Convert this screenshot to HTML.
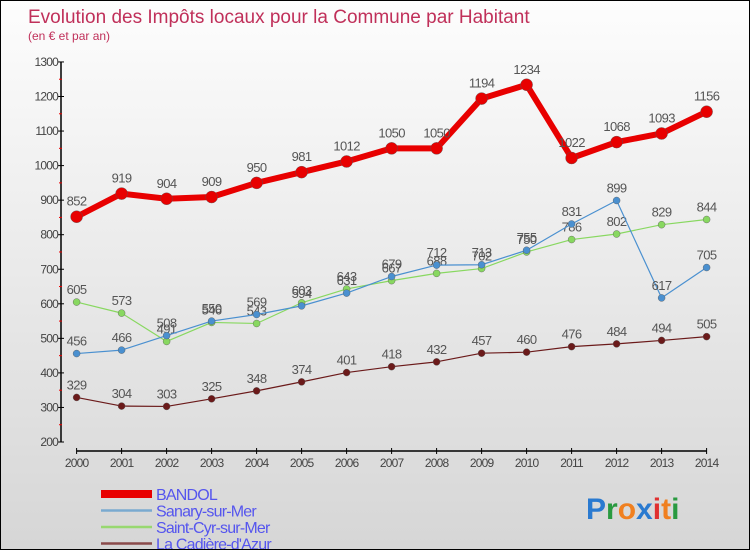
<!DOCTYPE html>
<html><head><meta charset="utf-8"><style>
body{margin:0;}
#c{width:750px;height:550px;position:relative;box-sizing:border-box;border:1px solid #000;background:linear-gradient(#fdfdfd,#d6d6d6);font-family:"Liberation Sans",sans-serif;overflow:hidden}
</style></head><body>
<div id="c">
<svg id="s" width="750" height="550" style="position:absolute;left:0;top:0"></svg>
</div>
<script>
const years=[2000,2001,2002,2003,2004,2005,2006,2007,2008,2009,2010,2011,2012,2013,2014];
const bandol=[852,919,904,909,950,981,1012,1050,1050,1194,1234,1022,1068,1093,1156];
const sanary=[456,466,508,550,569,594,631,679,712,713,755,831,899,617,705];
const saintcyr=[605,573,491,546,543,603,643,667,688,702,750,786,802,829,844];
const cadiere=[329,304,303,325,348,374,401,418,432,457,460,476,484,494,505];
const yTicks=[200,300,400,500,600,700,800,900,1000,1100,1200,1300];
const seriesNames=["BANDOL","Sanary-sur-Mer","Saint-Cyr-sur-Mer","La Cadière-d'Azur"];
const NS="http://www.w3.org/2000/svg";
const s=document.getElementById('s');
const X=i=>75.6+i*45;
const Y=v=>441-(v-200)*0.3455;
function el(t,a,p){const e=document.createElementNS(NS,t);for(const k in a)e.setAttribute(k,a[k]);(p||s).appendChild(e);return e;}
function txt(x,y,str,a){const e=el('text',Object.assign({x:x,y:y},a));e.textContent=str;return e;}
let t=txt(27,22,"Evolution des Impôts locaux pour la Commune par Habitant",{fill:"#c0305a","font-size":19});


t=txt(27,39,"(en € et par an)",{fill:"#c0305a","font-size":12});


let ax=el('line',{x1:60,y1:Y(1300),x2:60,y2:Y(200),stroke:"#000","stroke-width":1.5});


yTicks.forEach(v=>{
 el('line',{x1:57,x2:63,y1:Y(v),y2:Y(v),stroke:"#000"});
 if(v<1300)el('line',{x1:58,x2:61,y1:Y(v+50),y2:Y(v+50),stroke:"#e00"});
 const l=txt(57,Y(v)+4,v,{fill:"#444","font-size":12,"text-anchor":"end","letter-spacing":"-0.8"});
 
 
});
ax=el('line',{x1:X(0),y1:450,x2:X(14),y2:450,stroke:"#000","stroke-width":1.5});


years.forEach((y,i)=>{
 el('line',{x1:X(i),x2:X(i),y1:447,y2:453,stroke:"#000"});
 const l=txt(X(i),466,y,{fill:"#444","font-size":12,"text-anchor":"middle","letter-spacing":"-0.8"});
 
 
});
function series(data,color,w,r,name,fs){
 const g=el('g',{});
 
 
 el('polyline',{points:data.map((v,i)=>X(i)+","+Y(v)).join(" "),fill:"none",stroke:color,"stroke-width":w,"stroke-linejoin":"round"},g);
 data.forEach((v,i)=>{
  const c=el('circle',{cx:X(i),cy:Y(v),r:r,fill:color,stroke:"#555","stroke-width":0.4},g);
  
  
  const l=txt(X(i),Y(v)-8-(w>3?3:0),v,{fill:"#555","font-size":fs,"text-anchor":"middle","letter-spacing":"-0.6"},g);
  
  
 });
}
series(cadiere,"#6b1a1a",1.2,3.5,"series-cadiere",13);
series(saintcyr,"#88d860",1.2,3.5,"series-saint-cyr",13);
series(sanary,"#4a90d0",1.2,3.5,"series-sanary",13);
series(bandol,"#e80000",6,6,"series-bandol",13);
const lc=["#e80000","#7aaad0","#98d870","#8a4a4a"];
const lw=[8,2.5,2.5,2.5];
seriesNames.forEach((n,i)=>{
 const g=el('g',{});
 
 
 const y=493+i*16.5;
 el('line',{x1:100,x2:151,y1:y,y2:y,stroke:lc[i],"stroke-width":lw[i]},g);
 txt(155,y+6,n,{fill:"#5555ee","font-size":16,"letter-spacing":"-0.8"},g);
});
const lg=el('text',{x:585,y:518,"font-size":30,"font-family":"Liberation Sans, sans-serif","font-weight":"bold"});


[["P","#2a7ad0"],["r","#2a9a40"],["o","#f08020"],["x","#2a7ad0"],["i","#e03030"],["t","#f08020"],["i","#2a9a40"]].forEach(([c,f])=>{const sp=el('tspan',{fill:f},lg);sp.textContent=c;});
</script>
</body></html>
